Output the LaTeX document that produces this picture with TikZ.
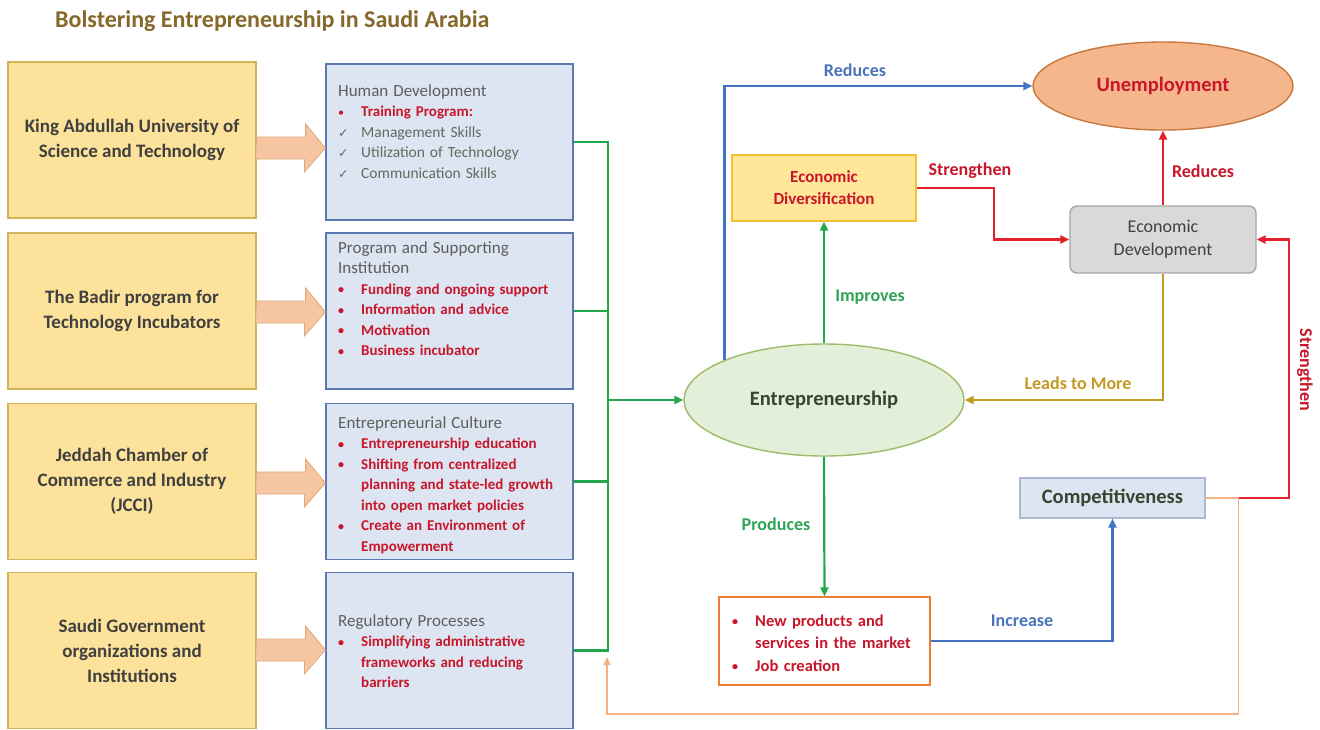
\documentclass[tikz,border=0pt]{standalone}
\usepackage{fontspec}
\setmainfont{Carlito}
\newfontfamily\symfont{DejaVu Sans}
\usetikzlibrary{arrows.meta,shapes.geometric}
\definecolor{lfill}{HTML}{FCE29A}
\definecolor{ldraw}{HTML}{D4B45A}
\definecolor{mfill}{HTML}{DCE5F1}
\definecolor{mdraw}{HTML}{5B78B0}
\definecolor{txtdark}{HTML}{404040}
\definecolor{headgray}{HTML}{5E5E5E}
\definecolor{chkgray}{HTML}{5D6D5F}
\definecolor{redtxt}{HTML}{C8162B}
\definecolor{gline}{HTML}{22A84A}
\definecolor{gtxt}{HTML}{2EA357}
\definecolor{bline}{HTML}{4472C4}
\definecolor{btxt}{HTML}{4A74B8}
\definecolor{rline}{HTML}{E3202B}
\definecolor{gold}{HTML}{C49A22}
\definecolor{orl}{HTML}{F4B183}
\definecolor{arrfill}{HTML}{F6C6A2}
\definecolor{arrdraw}{HTML}{E0A978}
\definecolor{titlec}{HTML}{85682A}
\definecolor{entfill}{HTML}{E3EFD9}
\definecolor{entdraw}{HTML}{9DBB6A}
\definecolor{enttxt}{HTML}{38442F}
\definecolor{unfill}{HTML}{F6B68C}
\definecolor{undraw}{HTML}{C8773E}
\definecolor{divfill}{HTML}{FFE699}
\definecolor{divdraw}{HTML}{F2C132}
\definecolor{edfill}{HTML}{D9D9D9}
\definecolor{eddraw}{HTML}{A6A6A6}
\definecolor{cpfill}{HTML}{DCE5F1}
\definecolor{cpdraw}{HTML}{A9B9D3}
\definecolor{proddraw}{HTML}{ED7D31}
\newcommand\sbul{{\fontsize{12}{12}\selectfont\raisebox{0.5pt}{\textbullet}}}
\newcommand\itmA[1]{\hangindent=23pt\hangafter=1\noindent\makebox[23pt][l]{\sbul}{#1}}
\newcommand\itm[1]{\par\itmA{#1}}
\newcommand\chk[1]{\par\hangindent=23pt\hangafter=1\noindent\makebox[23pt][l]{{\symfont\fontsize{12.5}{12}\selectfont ✓}}{#1}}
\begin{document}
\begin{tikzpicture}[x=1pt,y=-1pt,
  lbox/.style={draw=ldraw,fill=lfill,line width=1.2pt,minimum width=248pt,minimum height=156pt,align=center,text=txtdark,font=\bfseries\fontsize{19}{25}\selectfont},
  mbox/.style={draw=mdraw,fill=mfill,line width=1.2pt,minimum width=247pt,minimum height=156pt},
  mtext/.style={anchor=base west,inner sep=0pt,text width=234pt,align=left,font=\fontsize{15}{20.5}\selectfont},
  conn/.style={line width=2.2pt},
  tip/.style={-{Triangle[length=9pt,width=8pt]}},
  lab/.style={font=\bfseries\fontsize{18}{20}\selectfont,inner sep=1pt},
]
\useasboundingbox (0,0) rectangle (1320,729);
\fill[white] (0,0) rectangle (1320,729);

% title
\node[anchor=base west,inner sep=0pt,text=titlec,font=\bfseries\fontsize{24}{28}\selectfont] (title) at (55,27) {Bolstering Entrepreneurship in Saudi Arabia};

% left boxes
\node[lbox] (k1) at (132,140) {King Abdullah University of\\Science and Technology};
\node[lbox] (k2) at (132,311) {The Badir program for\\Technology Incubators};
\node[lbox] (k3) at (132,481.5) {Jeddah Chamber of\\Commerce and Industry\\(JCCI)};
\node[lbox] (k4) at (132,650.5) {Saudi Government\\organizations and\\Institutions};

% middle boxes
\node[mbox] (m1) at (449.5,142) {};
\node[mbox] (m2) at (449.5,311) {};
\node[mbox] (m3) at (449.5,481.5) {};
\node[mbox] (m4) at (449.5,650.5) {};

% block arrows
\foreach \n/\cy in {1/148,2/312,3/483,4/650}{
  \fill[arrfill,draw=arrdraw,line width=0.8pt,line join=miter]
    (k\n.east |- 0,\cy) ++(0,-11) -- ++(49,0) -- ++(0,-13) -- (m\n.west |- 0,\cy) -- ++(-21,24) -- ++(0,-13) -- ++(-49,0) -- cycle;
}

% middle texts
\node[mtext] (t1) at (338,96) {{\color{headgray}\fontsize{17}{20.5}\selectfont Human Development}
\color{redtxt}\itm{\bfseries Training Program:}
\color{chkgray}\fontsize{15.5}{20.5}\selectfont\chk{Management Skills}
\chk{Utilization of Technology}
\chk{Communication Skills}\par};
\node[mtext] (t2) at (338,253) {{\color{headgray}\fontsize{17}{22}\selectfont Program and Supporting\newline Institution}
\color{redtxt}\bfseries\itm{Funding and ongoing support}
\itm{Information and advice}
\itm{Motivation}
\itm{Business incubator}\par};
\node[mtext] (t3) at (338,428) {{\color{headgray}\fontsize{17}{20.5}\selectfont Entrepreneurial Culture}
\color{redtxt}\bfseries\itm{Entrepreneurship education}
\itm{Shifting from centralized\newline planning and state-led growth\newline into open market policies}
\itm{Create an Environment of\newline Empowerment}\par};
\node[mtext] (t4) at (338,626) {{\color{headgray}\fontsize{17}{20.5}\selectfont Regulatory Processes}
\color{redtxt}\bfseries\itm{Simplifying administrative\newline frameworks and reducing\newline barriers}\par};

% right nodes
\node[ellipse,draw=entdraw,fill=entfill,line width=1.4pt,minimum width=280pt,minimum height=112pt,inner sep=0pt,text=enttxt,font=\bfseries\fontsize{20.5}{24}\selectfont] (ent) at (824,400) {Entrepreneurship};
\node[ellipse,draw=undraw,fill=unfill,line width=1.4pt,minimum width=260pt,minimum height=88pt,inner sep=0pt,text=redtxt,font=\bfseries\fontsize{20.5}{24}\selectfont] (unemp) at (1163,86) {Unemployment};
\node[rectangle,draw=divdraw,fill=divfill,line width=1.4pt,minimum width=184pt,minimum height=66pt,align=center,text=redtxt,font=\bfseries\fontsize{17}{22}\selectfont] (div) at (824,188) {Economic\\Diversification};
\node[rectangle,rounded corners=7pt,draw=eddraw,fill=edfill,line width=1.4pt,minimum width=186pt,minimum height=67pt,align=center,text=txtdark,font=\fontsize{18}{23}\selectfont] (ecodev) at (1163,239.5) {Economic\\Development};
\node[rectangle,draw=cpdraw,fill=cpfill,line width=1.2pt,minimum width=185pt,minimum height=40pt,text=enttxt,font=\bfseries\fontsize{20.5}{24}\selectfont] (comp) at (1112.5,498) {Competitiveness\hspace{16pt}};
\node[rectangle,draw=proddraw,fill=white,line width=1.4pt,minimum width=211pt,minimum height=88pt] (prod) at (824.5,641) {};
\node[anchor=base west,inner sep=0pt,text width=200pt,align=left,text=redtxt,font=\bfseries\fontsize{16.5}{22.5}\selectfont] (prodtxt) at (732,626) {\itmA{New products and\newline services in the market}\itm{Job creation}\par};

% green bus
\draw[conn,gline] (m1.east) -- ++(34,0) |- (m4.east);
\draw[conn,gline] (m2.east) -- ++(34,0);
\draw[conn,gline] (m3.east) -- ++(34,0);
\coordinate (busmid) at (607,400);
\draw[conn,gline,tip] (busmid) -- (ent.west);

% connectors right side
\draw[conn,bline,tip] (ent.north west) |- (unemp.west);
\node[lab,text=btxt] (lred1) at (855,70) {Reduces};
\draw[conn,gline,tip] (ent.north) -- (div.south);
\node[lab,text=gtxt] (limp) at (870,297) {Improves};
\draw[conn,rline,tip] (div.east) -- ++(77,0) |- (ecodev.west);
\node[lab,text=redtxt] (lstr1) at (970,171) {Strengthen};
\draw[conn,rline,tip] (ecodev.north) -- (unemp.south);
\node[lab,text=redtxt] (lred2) at (1203,171) {Reduces};
\draw[conn,gold,tip] (ecodev.south) |- (ent.east);
\node[lab,text=gold] (llead) at (1078,383) {Leads to More};
\draw[conn,gline,tip] (ent.south) -- (prod.north);
\node[lab,text=gtxt] (lprod) at (776,524) {Produces};
\draw[conn,bline,tip] (prod.east) -| (comp.south);
\node[lab,text=btxt] (linc) at (1022,621) {Increase};
\coordinate (retc) at (607,714);
\coordinate (rett) at (607,657);
\draw[line width=1.6pt,orl,-{Triangle[length=8pt,width=7pt]}] (comp.east) -- ++(33,0) |- (retc) -- (rett);
\draw[conn,rline,tip] (comp.east) ++(33,0) -- ++(50,0) |- (ecodev.east);
\node[lab,text=redtxt,rotate=-90] (lstr2) at (1305,370) {Strengthen};
\end{tikzpicture}
\end{document}
